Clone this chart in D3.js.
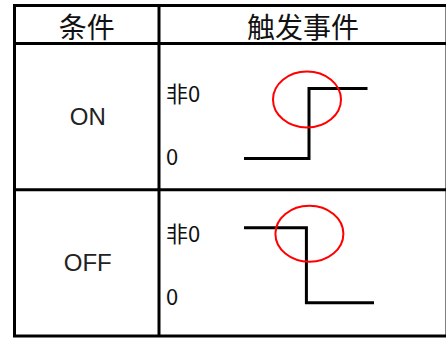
<!DOCTYPE html>
<html><head><meta charset="utf-8">
<script src="https://cdn.jsdelivr.net/npm/d3@7"></script>
<style>html,body{margin:0;padding:0;background:#fff;}svg{display:block;}</style>
</head><body>
<svg id="c" width="446" height="338"></svg>
<script>
// Data
const headers = ["条件", "触发事件"];
const conditions = ["ON", "OFF"];
const levelLabels = ["0", "非0"];
const onSignal = [[0, 0], [5, 0], [5, 1], [9.5, 1]];
const offSignal = [[0, 1], [4.8, 1], [4.8, 0], [10, 0]];
const signals = [onSignal, offSignal];
const transitions = [5, 4.8];

(function () {
const svg = d3.select("#c");
const tLeft = 14.5, tRight = 447, tTop = 5.5, headerBottom = 43.5, tBottom = 336;
const divider = 159;
const rows = d3.scaleBand().domain(conditions).range([headerBottom, tBottom]);

const x = d3.scaleLinear().domain([0, 10]).range([244, 374]);
const rowLayout = {ON: {hi: 45, lo: 115, lblHi: 58, lblLo: 121, ex: -2, ey: 11},
                   OFF: {hi: 38, lo: 113, lblHi: 52, lblLo: 115, ex: 3, ey: 6}};

svg.selectAll("text.h").data(headers).join("text")
  .attr("x", (d, i) => i === 0 ? (tLeft + divider) / 2 : (divider + tRight) / 2)
  .attr("y", (tTop + headerBottom) / 2 + 1)
  .attr("text-anchor", "middle").attr("dominant-baseline", "central")
  .style("font-family", "'Noto Sans CJK SC'").style("font-size", "28px").attr("fill", "#111")
  .text(d => d);

conditions.forEach((c, i) => {
  const r0 = rows(c), L = rowLayout[c];
  const y = d3.scaleLinear().domain([0, 1]).range([r0 + L.lo, r0 + L.hi]);
  svg.append("text").attr("x", (tLeft + divider) / 2 + 1).attr("y", r0 + rows.bandwidth() / 2 + 8.5)
    .attr("text-anchor", "middle")
    .style("font-family", "'Liberation Sans', Arial, sans-serif").style("font-size", "24px").attr("fill", "#222")
    .text(c);
  svg.append("text").attr("x", 166).attr("y", r0 + L.lblLo)
    .style("font-family", "'Noto Sans CJK SC'").style("font-size", "22px").attr("fill", "#111")
    .text(levelLabels[0]);
  svg.append("text").attr("x", 166).attr("y", r0 + L.lblHi)
    .style("font-family", "'Noto Sans CJK SC'").style("font-size", "22px").attr("fill", "#111")
    .text(levelLabels[1]);
  const line = d3.line().x(d => x(d[0])).y(d => y(d[1]));
  svg.append("path").attr("d", line(signals[i])).attr("fill", "none")
    .attr("stroke", "#000").attr("stroke-width", 3);
  svg.append("ellipse").attr("cx", x(transitions[i]) + L.ex).attr("cy", y(1) + L.ey)
    .attr("rx", 34).attr("ry", 28).attr("fill", "none").attr("stroke", "#f00").attr("stroke-width", 2);
});

const g = svg.append("g").attr("stroke", "#000").attr("stroke-width", 3).attr("fill", "none");
g.append("rect").attr("x", tLeft).attr("y", tTop).attr("width", tRight - tLeft).attr("height", tBottom - tTop);
g.append("line").attr("x1", divider).attr("x2", divider).attr("y1", tTop).attr("y2", tBottom);
[headerBottom, rows("OFF")].forEach(yy => g.append("line").attr("x1", tLeft).attr("x2", tRight).attr("y1", yy).attr("y2", yy));
})();
</script>
</body></html>
